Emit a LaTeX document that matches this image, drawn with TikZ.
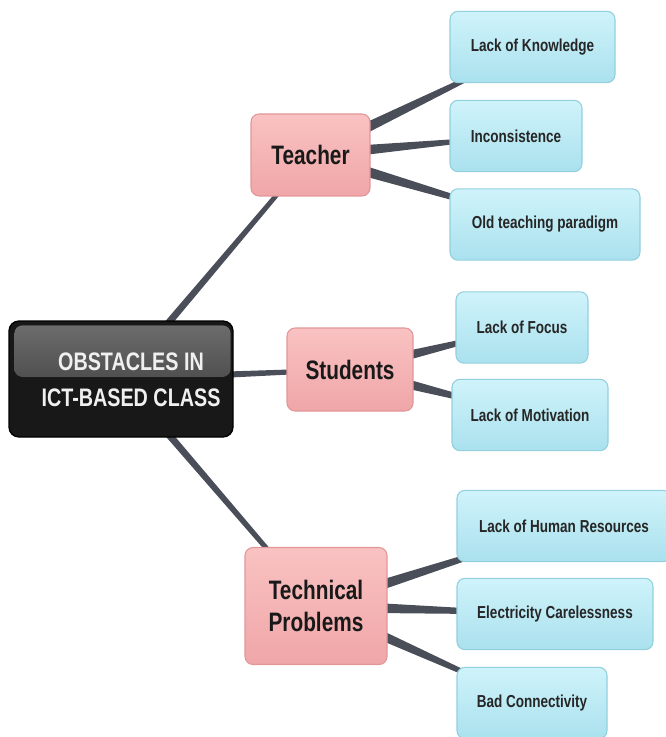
\documentclass[tikz,border=0pt]{standalone}
\usepackage{fontspec}
\setmainfont{Liberation Sans}[FakeStretch=0.78]
\usetikzlibrary{calc,backgrounds,shadows}

\definecolor{linkgray}{RGB}{74,78,88}
\definecolor{pinktop}{RGB}{249,194,194}
\definecolor{pinkbot}{RGB}{240,166,168}
\definecolor{pinkline}{RGB}{226,150,152}
\definecolor{bluetop}{RGB}{207,243,250}
\definecolor{bluebot}{RGB}{170,225,238}
\definecolor{blueline}{RGB}{146,208,222}
\definecolor{rootfill}{RGB}{24,24,24}
\definecolor{glosstop}{RGB}{108,108,108}
\definecolor{glossbot}{RGB}{80,80,80}

\tikzset{
  rootbox/.style={rounded corners=7.5pt, draw=black, line width=1pt, fill=rootfill,
    minimum width=168pt, minimum height=87pt, inner sep=0pt},
  gloss/.style={rounded corners=6pt, top color=glosstop, bottom color=glossbot},
  roottext/.style={text=gray!12, align=center, inner sep=0pt,
    font=\bfseries\fontsize{19}{27}\selectfont},
  topic/.style={rounded corners=6pt, draw=pinkline, line width=0.8pt,
    top color=pinktop, bottom color=pinkbot, text=black!90, align=center,
    inner sep=0pt, font=\bfseries\fontsize{20}{24}\selectfont},
  leaf/.style={rounded corners=6pt, draw=blueline, line width=0.8pt,
    top color=bluetop, bottom color=bluebot, text=black!85, align=center,
    inner sep=0pt, minimum height=53.5pt, font=\bfseries\fontsize{13}{15}\selectfont},
}

% tapered link between two nodes: from, to, half width at from, half width at to
\newcommand\branch[4]{%
  \fill[linkgray] ($(#1)!#3!90:(#2)$) -- ($(#2)!#4!-90:(#1)$)
    -- ($(#2)!#4!90:(#1)$) -- ($(#1)!#3!-90:(#2)$) -- cycle;}

\begin{document}
\begin{tikzpicture}[x=0.75pt,y=0.75pt,yscale=-1,xscale=1]
\useasboundingbox (0,0) rectangle (665,737);

% main topic
\node[rootbox] (root) at (121,379) {};
\fill[gloss] ($(root.north west)+(6,5)$) rectangle ($(root.east)+(-3,-2)$);
\node[roottext] (roottitle) at ($(root)+(10,1)$) {OBSTACLES IN\\ICT-BASED CLASS};

% second level
\node[topic, minimum width=89.25pt, minimum height=61.5pt] (teacher) at (310.5,155) {Teacher};
\node[topic, minimum width=94.5pt, minimum height=62.25pt] (students) at (350,369.5) {Students};
\node[topic, minimum width=106.5pt, minimum height=87.75pt] (technical) at (316,606) {Technical\\Problems};

% third level
\node[leaf, minimum width=123.75pt] (knowledge) at (532.5,47) {Lack of Knowledge};
\node[leaf, minimum width=99pt] (inconsist) at (516,136) {Inconsistence};
\node[leaf, minimum width=142.5pt] (paradigm) at (545,224.5) {Old teaching paradigm};
\node[leaf, minimum width=99pt] (focus) at (522,327.5) {Lack of Focus};
\node[leaf, minimum width=117pt] (motivation) at (530,415) {Lack of Motivation};
\node[leaf, minimum width=160.5pt] (human) at (564,526) {Lack of Human Resources};
\node[leaf, minimum width=147pt] (electricity) at (555,614) {Electricity Carelessness};
\node[leaf, minimum width=112.5pt] (connect) at (532,703) {Bad Connectivity};

\begin{scope}[on background layer]
\branch{root}{teacher}{3pt}{1.5pt}
\branch{root}{students}{3pt}{1.5pt}
\branch{root}{technical}{3pt}{1.5pt}
\branch{teacher}{knowledge}{4.8pt}{0.6pt}
\branch{teacher}{inconsist}{4.8pt}{0.6pt}
\branch{teacher}{paradigm}{4.8pt}{0.6pt}
\branch{students}{focus}{4.8pt}{0.6pt}
\branch{students}{motivation}{4.8pt}{0.6pt}
\branch{technical}{human}{4.8pt}{0.6pt}
\branch{technical}{electricity}{4.8pt}{0.6pt}
\branch{technical}{connect}{4.8pt}{0.6pt}
\end{scope}

\end{tikzpicture}
\end{document}
